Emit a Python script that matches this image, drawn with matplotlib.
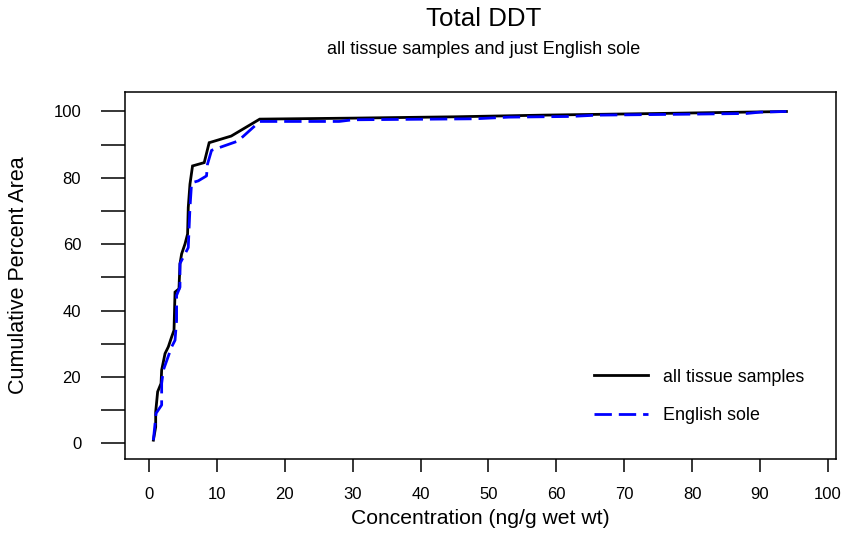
import matplotlib
matplotlib.use("Agg")
import matplotlib.pyplot as plt
from matplotlib.ticker import MultipleLocator

# Cumulative percent area vs. Total DDT concentration (ng/g wet wt)
all_conc = [0.63, 0.97, 0.97, 1.26, 1.76, 1.85, 2.35, 2.83, 3.32, 3.67, 3.82,
            4.40, 4.55, 4.79, 5.29, 5.67, 5.77, 6.02, 6.40, 8.12, 8.85, 12.1,
            16.3, 30.0, 45.0, 58.0, 75.0, 93.9]
all_pct = [1.0, 5.0, 9.5, 15.6, 18.1, 22.1, 27.1, 29.1, 32.1, 34.1, 45.6,
           46.6, 54.1, 57.1, 60.1, 63.1, 71.1, 78.1, 83.6, 84.6, 90.6, 92.6,
           97.7, 98.0, 98.4, 98.9, 99.4, 100.0]

sole_conc = [0.63, 1.03, 1.85, 1.85, 2.10, 3.32, 3.82, 4.05, 4.05, 4.55, 4.55,
             5.77, 6.02, 6.26, 7.24, 8.46, 8.60, 9.20, 13.1, 16.3, 28.0, 30.0,
             48.0, 53.0, 62.0, 66.0, 80.0, 88.0, 90.0, 93.9]
sole_pct = [1.0, 9.1, 11.6, 18.1, 22.1, 29.1, 31.1, 37.1, 44.6, 47.1, 54.2,
            59.0, 71.0, 78.5, 79.1, 80.6, 84.1, 88.3, 91.1, 97.0, 97.0, 97.5,
            97.8, 98.3, 98.5, 98.9, 99.2, 99.4, 99.8, 100.0]

series_labels = ["all tissue samples", "English sole"]
x_ticks = list(range(0, 101, 10))
y_ticks = list(range(0, 101, 20))

plt.rcParams["font.family"] = ["Liberation Sans", "DejaVu Sans"]
plt.rcParams["lines.scale_dashes"] = False

W, H = 849, 533
fig = plt.figure(figsize=(W / 100, H / 100), dpi=100)
left, right, top, bottom = 125, 836, 92, 459
ax = fig.add_axes([left / W, (H - bottom) / H, (right - left) / W, (bottom - top) / H])

ax.plot(all_conc, all_pct, color="black", lw=2.0, solid_joinstyle="miter",
        label=series_labels[0], zorder=3)
ax.plot(sole_conc, sole_pct, color="#0000ff", lw=2.0, linestyle=(0, (12.5, 5)),
        label=series_labels[1], zorder=4)

ax.set_xlim(-3.55, 101.2)
ax.set_ylim(-4.67, 105.87)
ax.set_xticks(x_ticks)
ax.set_yticks(y_ticks)
ax.yaxis.set_minor_locator(MultipleLocator(10))

ax.tick_params(axis="x", which="major", direction="out", length=9.5, width=1.1,
               pad=11, labelsize=12, colors="black")
ax.tick_params(axis="y", which="both", direction="out", length=17.5, width=1.1,
               pad=14, labelsize=12, colors="black")
for sp in ax.spines.values():
    sp.set_linewidth(1.1)
    sp.set_color("black")

ax.set_xlabel("Concentration (ng/g wet wt)", fontsize=15.2, va="center")
ax.xaxis.set_label_coords(0.5, (bottom - 518) / (bottom - top))
ax.set_ylabel("Cumulative Percent Area", fontsize=15.5, va="center")
ax.yaxis.set_label_coords((19 - left) / (right - left), 0.5)

fig.text(484 / W, 1 - 19 / H, "Total DDT", fontsize=18.6, ha="center", va="center")
fig.text(484 / W, 1 - 50 / H, "all tissue samples and just English sole",
         fontsize=13, ha="center", va="center")

ax.legend(loc="upper left", bbox_to_anchor=((594 - left) / (right - left), 0.2463),
          frameon=False, fontsize=12.9, handlelength=3.0, handletextpad=0.85,
          labelspacing=1.22, borderaxespad=0, borderpad=0)

fig.savefig("out.png", dpi=100)
